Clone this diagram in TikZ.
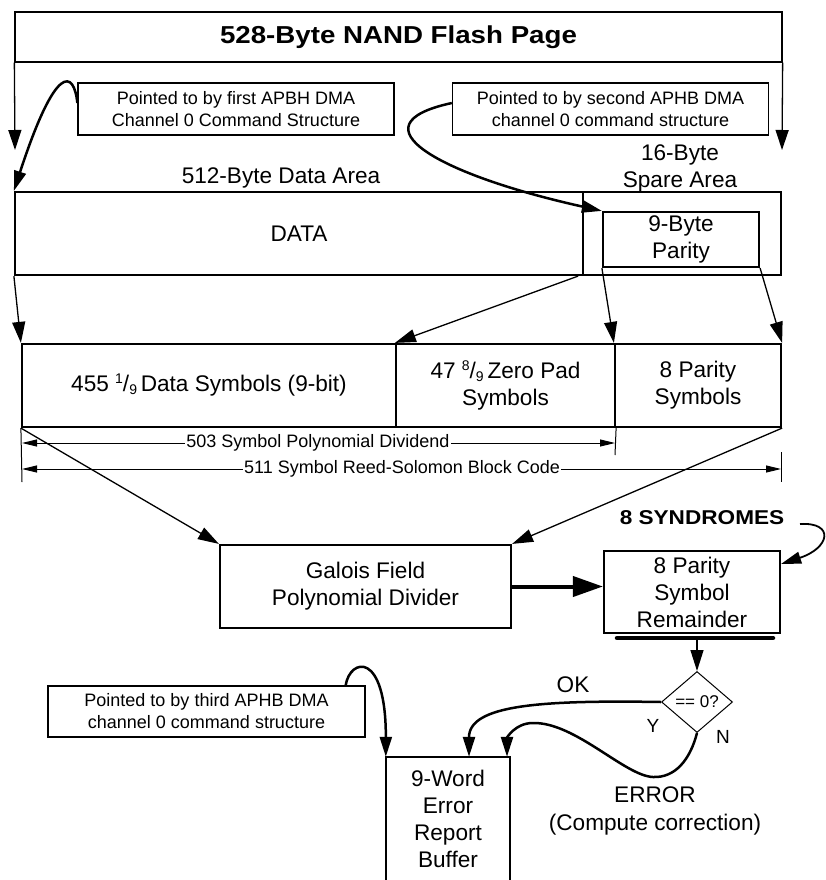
\documentclass[tikz,border=0pt]{standalone}
\usepackage{fontspec}
\setmainfont{Liberation Sans}
\newfontfamily\widefont[FakeStretch=1.13]{Liberation Sans}
\usetikzlibrary{arrows.meta,shapes.geometric,calc}
\newcommand\mainfs{\fontsize{22.6}{27}\selectfont}
\newcommand\notefs{\fontsize{18}{22}\selectfont}
\newcommand\yesnofs{\fontsize{19}{22}\selectfont}
\newcommand\diafs{\fontsize{17}{20}\selectfont}
\newcommand\smfs{\fontsize{14}{14}\selectfont}
\newcommand\frc[2]{{\smfs\raisebox{8pt}{#1}}/{\smfs\raisebox{-3pt}{#2}}}
\begin{document}
\begin{tikzpicture}[x=1pt,y=-1pt,
  box/.style={draw, line width=2.2pt, inner sep=0pt, align=center, font=\mainfs},
  note/.style={draw, line width=1.3pt, inner sep=0pt, align=center, font=\notefs, minimum width=316pt, minimum height=52pt},
  lbl/.style={inner sep=0pt, align=center, font=\mainfs},
  brk/.style={line width=1.3pt, -{Triangle[length=20pt,width=13pt]}},
  conn/.style={line width=1.3pt, -{Triangle[length=21pt,width=13pt]}},
  curv/.style={line width=2.5pt, -{Triangle[length=20pt,width=12pt]}},
  curvthin/.style={line width=1.8pt, -{Triangle[length=20pt,width=12pt]}},
  fat/.style={line width=4pt, -{Triangle[length=30pt,width=20pt]}},
  dimarr/.style={line width=1pt, {Triangle[length=15pt,width=7pt]}-{Triangle[length=15pt,width=7pt]}},
  ext/.style={line width=1pt},
  dimlbl/.style={fill=white, inner sep=1pt, font=\notefs}
]
\useasboundingbox (0,0) rectangle (825,880);

% title bracket
\node[draw, line width=1.3pt, inner sep=0pt, minimum width=767pt, minimum height=50pt]
  (title) at (398.5,37) {\widefont\bfseries\fontsize{24.5}{28}\selectfont 528-Byte NAND Flash Page};
\coordinate (la) at (15,150);
\coordinate (ra) at (782,150);
\draw[brk] (title.south west) -- (la);
\draw[brk] (title.south east) -- (ra);

% notes
\node[note] (n1) at (236,109) {Pointed to by first APBH DMA\\Channel 0 Command Structure};
\node[note] (n2) at (610.5,109) {Pointed to by second APHB DMA\\channel 0 command structure};

% area labels
\node[lbl] (dal) at (281,178) {512-Byte Data Area};
\node[lbl] (sal) at (680,168.5) {16-Byte\\Spare Area};

% page areas
\node[box, minimum width=568pt, minimum height=83pt] (data) at (299,233.5) {DATA};
\node[box, minimum width=198pt, minimum height=83pt] (spare) at (682,233.5) {};
\node[box, minimum width=156pt, minimum height=55pt] (parity) at (681,239.5) {9-Byte\\Parity};

\draw[curv] ([yshift=6pt]n1.west) .. controls (74,70) and (56,62) .. (data.north west);
\draw[curv] ([yshift=6pt]n2.west) .. controls (350,125) and (440,175) .. (parity.north west);

% symbols row
\node[box, minimum width=374pt, minimum height=83pt] (s1) at (209,385.5) {455 \frc{1}{9}\,Data Symbols (9-bit)};
\node[box, minimum width=219pt, minimum height=83pt] (s2) at (505.5,385.5) {47 \frc{8}{9}\,Zero Pad\\Symbols};
\node[box, minimum width=166pt, minimum height=83pt] (s3) at (698,385.5) {8 Parity\\Symbols};

\draw[conn] (data.south west) -- (s1.north west);
\draw[conn] ([xshift=-6pt]data.south east) -- (s2.north west);
\draw[conn] (parity.south west) -- (s3.north west);
\draw[conn] (parity.south east) -- (s3.north east);

% dimension lines
\coordinate (e1) at (22,482);
\coordinate (e2) at (615,455);
\coordinate (e3a) at (781,452);
\coordinate (e3b) at (781,482);
\draw[ext] (s1.south west) -- (e1);
\draw[ext] (s2.south east) -- (e2);
\draw[ext] (e3a) -- (e3b);
\coordinate (d1l) at (22,443);
\coordinate (d1r) at (615,443);
\coordinate (d2l) at (22,469);
\coordinate (d2r) at (781,469);
\draw[dimarr] (d1l) -- (d1r);
\draw[dimarr] (d2l) -- (d2r);
\node[dimlbl] (dl1) at (318,443) {503 Symbol Polynomial Dividend};
\node[dimlbl] (dl2) at (402,469) {511 Symbol Reed-Solomon Block Code};

% divider and remainder
\node[box, minimum width=291pt, minimum height=83pt] (gal) at (365.5,586.5) {Galois Field\\Polynomial Divider};
\draw[conn] (s1.south west) -- (gal.north west);
\draw[conn] (s3.south east) -- (gal.north east);

\node[box, minimum width=176pt, minimum height=82pt] (rem) at (692,592) {8 Parity\\Symbol\\Remainder};
\draw[fat] (gal.east) -- (gal.east -| rem.west);

\node[inner sep=0pt] (syn) at (702,518) {\widefont\bfseries\fontsize{20}{24}\selectfont 8 SYNDROMES};
\coordinate (synS) at (800,524);
\draw[curvthin] (synS) .. controls (835,522) and (830,548) .. ([yshift=-14pt]rem.north east);

% decision
\coordinate (barL) at (617,638);
\coordinate (barR) at (773,638);
\draw[line width=4.5pt, line cap=round] (barL) -- (barR);
\node[draw, diamond, line width=1pt, inner sep=0pt, minimum width=71pt, minimum height=61pt, font=\diafs] (dia) at (697,702) {== 0?};
\draw[conn] (dia.north |- barL) -- (dia.north);

\node[lbl] (ok) at (573,685) {OK};
\node[inner sep=0pt, font=\yesnofs] (yl) at (653,726) {Y};
\node[inner sep=0pt, font=\yesnofs] (nl) at (723,737) {N};
\node[lbl, text depth=0pt] (err) at (655,809) {ERROR\\[1pt](Compute correction)};

% buffer
\node[inner sep=0pt, minimum width=124pt, minimum height=124pt, align=center, font=\mainfs] (buf) at (448,819) {9-Word\\Error\\Report\\Buffer};
\draw[line width=2.2pt] (buf.south west) -- (buf.north west) -- (buf.north east) -- (buf.south east);

\draw[curv] (dia.west) .. controls (540,700) and (469,705) .. ([xshift=21pt]buf.north);
\draw[curv] (dia.south) .. controls (690,760) and (675,778) .. (653,777)
   .. controls (625,776) and (575,722) .. (533,723)
   .. controls (515,723) and (507,738) .. ([xshift=59pt]buf.north);

% third note
\node[note, minimum width=317pt, minimum height=51pt] (n3) at (206.5,711.5) {Pointed to by third APHB DMA\\channel 0 command structure};
\draw[curv] ([xshift=-20pt]n3.north east) .. controls (350,658) and (386,650) .. (buf.north west);

\end{tikzpicture}
\end{document}
